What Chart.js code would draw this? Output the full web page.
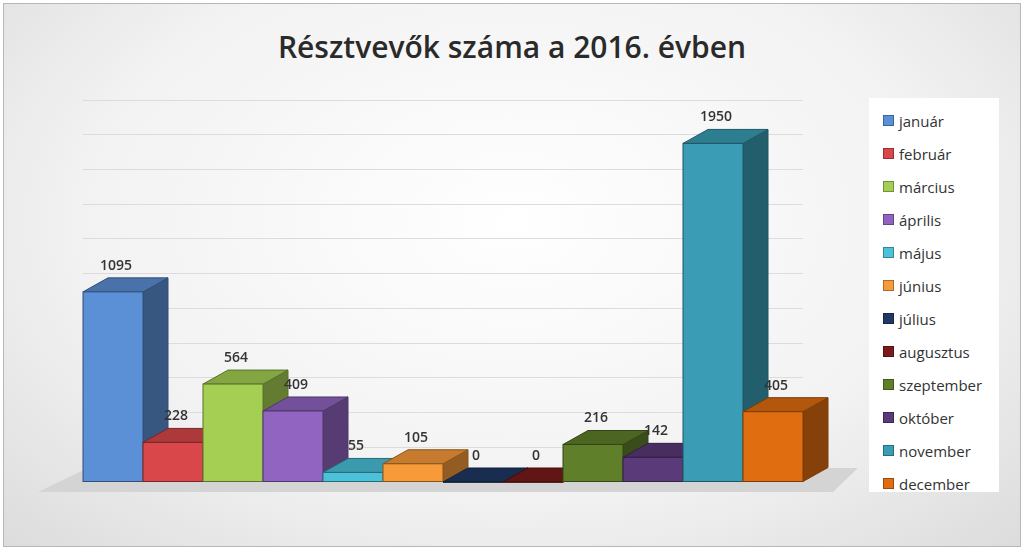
<!DOCTYPE html>
<html><head><meta charset="utf-8">
<script src="https://cdn.jsdelivr.net/npm/chart.js@4"></script>
<style>
  body{margin:0;width:1024px;height:550px;overflow:hidden;font-family:"Open Sans","Noto Sans",sans-serif}
  #wrap{position:absolute;left:3px;top:3px;width:1016px;height:542px;border:1px solid #b8b8b8;
    background:radial-gradient(ellipse at 50% 40%,#ffffff 0%,#f2f2f2 60%,#dcdcdc 100%)}
  #title{position:absolute;left:0;width:1024px;top:26px;text-align:center;font-size:30px;font-weight:600;color:#2a2a2a}
  #c{position:absolute;left:0;top:0}
  #legend{position:absolute;left:869px;top:98px;width:130px;height:394px;background:#fff;box-sizing:border-box;padding:6px 0 0 14px}
  #legend div{height:33px;font-size:15px;color:#333;display:flex;align-items:center}
  #legend span{display:inline-block;width:9px;height:9px;margin-right:5px;border:1px solid rgba(0,0,0,.3)}
</style></head>
<body>
<div id="wrap"></div>
<div id="title">Résztvevők száma a 2016. évben</div>
<canvas id="c" width="860" height="550"></canvas>
<div id="legend"></div>
<script>
const months = ["január","február","március","április","május","június","július","augusztus","szeptember","október","november","december"];
const values = [1095, 228, 564, 409, 55, 105, 0, 0, 216, 142, 1950, 405];
const colors = ["#5b8fd6","#d9474a","#a5cf52","#9064c0","#4bc1da","#f79a3a","#1f3864","#7b1a1a","#5f7f2a","#5a3a78","#3a9db5","#e06d10"];

const legend = document.getElementById("legend");
months.forEach((m, i) => {
  legend.innerHTML += `<div><span style="background:${colors[i]}"></span>${m}</div>`;
});

function shade(hex, f) {
  const n = parseInt(hex.slice(1), 16);
  const ch = [n >> 16, (n >> 8) & 255, n & 255].map(v => Math.max(0, Math.min(255, Math.round(f < 1 ? v * f : v + (255 - v) * (f - 1)))));
  return `rgb(${ch.join(",")})`;
}

const DX = 25, DY = -14;
// draws floor, then each box (side, top, front) in order so later fronts cover earlier sides
const box3d = {
  id: "box3d",
  beforeDatasetsDraw(chart) {
    const ctx = chart.ctx, a = chart.chartArea;
    ctx.save();
    ctx.fillStyle = "#d4d4d4";
    ctx.beginPath();
    ctx.moveTo(a.left - 45, a.bottom + 10);
    ctx.lineTo(a.right + 30, a.bottom + 10);
    ctx.lineTo(a.right + 30 + DX, a.bottom + DY);
    ctx.lineTo(a.left - 20 + DX, a.bottom + DY);
    ctx.closePath();
    ctx.fill();
    ctx.restore();
  },
  afterDatasetsDraw(chart) {
    const ctx = chart.ctx;
    const meta = chart.getDatasetMeta(0);
    ctx.save();
    meta.data.forEach((bar, i) => {
      const l = bar.x - bar.width / 2, r = bar.x + bar.width / 2, t = bar.y, b = bar.base;
      const c = colors[i];
      ctx.strokeStyle = shade(c, 0.55); ctx.lineWidth = 1;
      ctx.fillStyle = shade(c, 0.6);
      ctx.beginPath();
      ctx.moveTo(r, b); ctx.lineTo(r + DX, b + DY); ctx.lineTo(r + DX, t + DY); ctx.lineTo(r, t);
      ctx.closePath(); ctx.fill(); ctx.stroke();
      ctx.fillStyle = shade(c, 0.8);
      ctx.beginPath();
      ctx.moveTo(l, t); ctx.lineTo(r, t); ctx.lineTo(r + DX, t + DY); ctx.lineTo(l + DX, t + DY);
      ctx.closePath(); ctx.fill(); ctx.stroke();
      ctx.fillStyle = c;
      ctx.fillRect(l, t, r - l, b - t);
      ctx.strokeRect(l, t, r - l, b - t);
    });
    meta.data.forEach((bar, i) => {
      ctx.fillStyle = "#333";
      ctx.font = "600 14px 'Open Sans', sans-serif";
      ctx.textAlign = "center";
      ctx.fillText(String(values[i]), bar.x + 3, bar.y - 22);
    });
    ctx.restore();
  }
};

new Chart(document.getElementById("c"), {
  type: "bar",
  data: {
    labels: months,
    datasets: [{
      data: values,
      backgroundColor: "rgba(0,0,0,0)",
      categoryPercentage: 1,
      barPercentage: 1,
      borderWidth: 0
    }]
  },
  options: {
    responsive: false,
    animation: false,
    layout: { padding: { left: 83, right: 57, top: 100, bottom: 68 } },
    plugins: { legend: { display: false }, tooltip: { enabled: false } },
    scales: {
      x: { display: false },
      y: {
        min: 0, max: 2200,
        ticks: { display: false, stepSize: 200 },
        border: { display: false },
        grid: { color: "#dcdcdc", drawTicks: false }
      }
    }
  },
  plugins: [box3d]
});
</script>
</body></html>
